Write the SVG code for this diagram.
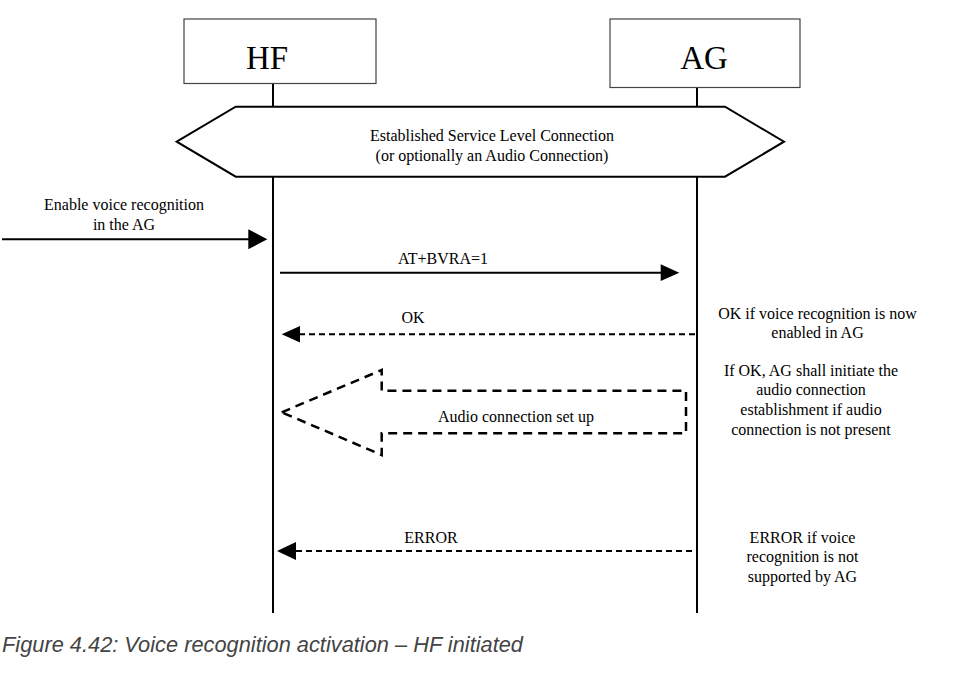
<svg xmlns="http://www.w3.org/2000/svg" width="957" height="684" viewBox="0 0 957 684">
<defs>
<style>
.t{font-family:"Liberation Serif","Times New Roman",serif;font-size:16px;fill:#000;text-anchor:middle}
.big{font-family:"Liberation Serif","Times New Roman",serif;font-size:33px;fill:#000;text-anchor:middle}
.box{fill:#fff;stroke:#444;stroke-width:1.2}
.life{stroke:#000;stroke-width:2;fill:none}
.msg{stroke:#000;stroke-width:2;fill:none}
.dash{stroke:#000;stroke-width:2;fill:none;stroke-dasharray:6 4}
.head{fill:#000}
</style>
</defs>
<rect width="957" height="684" fill="#fff"/>
<g id="lifelines">
<line class="life" x1="273" y1="83.5" x2="273" y2="106.7"/>
<line class="life" x1="273" y1="176.7" x2="273" y2="613"/>
<line class="life" x1="697" y1="87.5" x2="697" y2="106.7"/>
<line class="life" x1="697" y1="176.7" x2="697" y2="613"/>
</g>
<g id="node-hf">
<rect class="box" x="184" y="19" width="192" height="64.5"/>
<text class="big" x="267" y="69">HF</text>
</g>
<g id="node-ag">
<rect class="box" x="610" y="19" width="190" height="68.5"/>
<text class="big" x="704" y="69">AG</text>
</g>
<g id="node-slc">
<polygon points="176.7,141.7 235.7,106.7 725,106.7 784,141.7 725,176.7 235.7,176.7" fill="#fff" stroke="#000" stroke-width="2"/>
<text class="t" x="492" y="140.5">Established Service Level Connection</text>
<text class="t" x="492" y="160.5">(or optionally an Audio Connection)</text>
</g>
<g id="connectors">
<line class="msg" x1="2" y1="239.3" x2="250" y2="239.3"/>
<polygon class="head" points="267.3,239.3 248.3,229.3 248.3,249.3"/>
<line class="msg" x1="280" y1="272.7" x2="663" y2="272.7"/>
<polygon class="head" points="679.3,272.7 660.7,264.3 660.7,281.1"/>
<line class="dash" x1="695" y1="334.3" x2="298" y2="334.3"/>
<polygon class="head" points="281.7,334.3 300,326 300,342.6"/>
<line class="dash" x1="692" y1="551" x2="294" y2="551"/>
<polygon class="head" points="277,551 296,542 296,560"/>
<polygon points="281.7,412.3 381.7,370 381.7,390.7 686,390.7 686,433.3 381.7,433.3 381.7,455" fill="none" stroke="#000" stroke-width="2.5" stroke-dasharray="9 6"/>
</g>
<g id="labels">
<text class="t" x="124" y="210">Enable voice recognition</text>
<text class="t" x="124" y="229.5">in the AG</text>
<text class="t" x="443" y="264">AT+BVRA=1</text>
<text class="t" x="413" y="323.3">OK</text>
<text class="t" x="516" y="422">Audio connection set up</text>
<text class="t" x="431" y="542.5">ERROR</text>
<text class="t" x="817.5" y="318.5">OK if voice recognition is now</text>
<text class="t" x="817.5" y="338">enabled in AG</text>
<text class="t" x="811" y="375.5">If OK, AG shall initiate the</text>
<text class="t" x="811" y="395">audio connection</text>
<text class="t" x="811" y="414.5">establishment if audio</text>
<text class="t" x="811" y="435">connection is not present</text>
<text class="t" x="802.5" y="543">ERROR if voice</text>
<text class="t" x="802.5" y="562.3">recognition is not</text>
<text class="t" x="802.5" y="581.7">supported by AG</text>
</g>
<text x="2" y="652" font-family="'Liberation Sans',Arial,sans-serif" font-style="italic" font-size="21.8" fill="#444">Figure 4.42: Voice recognition activation – HF initiated</text>
</svg>
